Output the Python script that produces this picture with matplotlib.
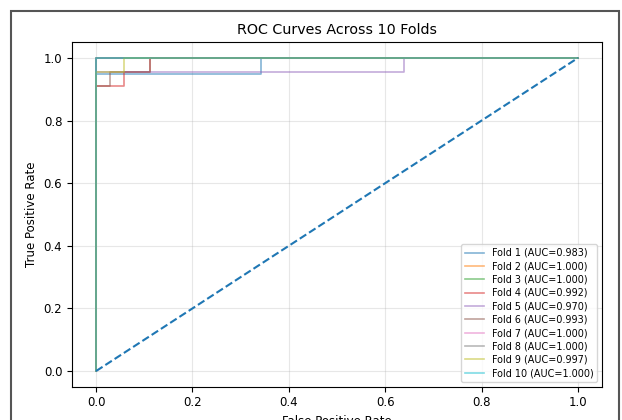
import matplotlib
matplotlib.use("Agg")
import matplotlib.pyplot as plt
from matplotlib.patches import Rectangle

fold_labels = ["Fold 1", "Fold 2", "Fold 3", "Fold 4", "Fold 5",
               "Fold 6", "Fold 7", "Fold 8", "Fold 9", "Fold 10"]
fold_aucs = [0.983, 1.000, 1.000, 0.992, 0.970, 0.993, 1.000, 1.000, 0.997, 1.000]

fold_fpr = [
    [0.0, 0.0, 0.343, 0.343, 1.0],
    [0.0, 0.0, 1.0],
    [0.0, 0.0, 1.0],
    [0.0, 0.0, 0.057, 0.057, 0.111, 0.111, 1.0],
    [0.0, 0.0, 0.640, 0.640, 1.0],
    [0.0, 0.0, 0.028, 0.028, 0.111, 0.111, 1.0],
    [0.0, 0.0, 1.0],
    [0.0, 0.0, 1.0],
    [0.0, 0.0, 0.057, 0.057, 1.0],
    [0.0, 0.0, 1.0],
]
fold_tpr = [
    [0.0, 0.95, 0.95, 1.0, 1.0],
    [0.0, 1.0, 1.0],
    [0.0, 1.0, 1.0],
    [0.0, 0.909, 0.909, 0.955, 0.955, 1.0, 1.0],
    [0.0, 0.955, 0.955, 1.0, 1.0],
    [0.0, 0.909, 0.909, 0.955, 0.955, 1.0, 1.0],
    [0.0, 1.0, 1.0],
    [0.0, 1.0, 1.0],
    [0.0, 0.955, 0.955, 1.0, 1.0],
    [0.0, 1.0, 1.0],
]
chance = [0.0, 1.0]

fig = plt.figure(figsize=(6.22, 4.20), dpi=100)
ax = fig.add_axes([72/622, 1-386.7/420, (602-72)/622, (386.7-42.3)/420])

for lab, auc, fpr, tpr in zip(fold_labels, fold_aucs, fold_fpr, fold_tpr):
    ax.plot(fpr, tpr, lw=1.2, alpha=0.55, label=f"{lab} (AUC={auc:.3f})")
ax.plot(chance, chance, "--", lw=1.5)

ax.set_title("ROC Curves Across 10 Folds", fontsize=10.3)
ax.set_xlabel("False Positive Rate", fontsize=8.5)
ax.set_ylabel("True Positive Rate", fontsize=8.5)
ax.tick_params(labelsize=8.5)
ax.grid(True, alpha=0.3)
ax.legend(loc="lower right", fontsize=6.9, labelspacing=0.35)

fig.add_artist(Rectangle((11/622, -0.1), (619-11)/622, 1.1 - 11/420,
                         transform=fig.transFigure, fill=False,
                         edgecolor="#555555", lw=1.5))

fig.savefig("out.png", dpi=100)
